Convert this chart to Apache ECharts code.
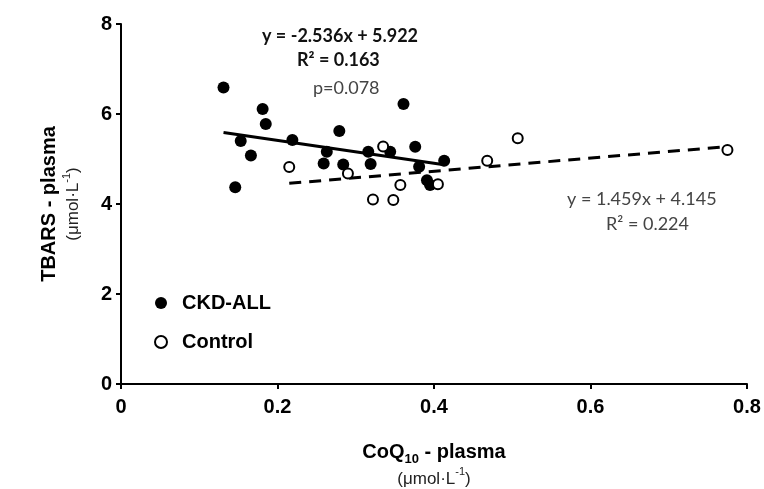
<!DOCTYPE html>
<html lang="en">
<head>
    <meta charset="UTF-8">
    <title>TBARS vs CoQ10</title>
</head>
<body style="margin:0;background:#fff;">
<div id="main" style="width: 764px;height:489px;"></div>

<script src="https://cdn.jsdelivr.net/npm/echarts@6/dist/echarts.min.js"></script>
<script>
    // CKD-ALL patients (filled dots): [CoQ10, TBARS]
    var ckdPoints = [
        [0.131, 6.59], [0.181, 6.11], [0.185, 5.78], [0.153, 5.40], [0.166, 5.08],
        [0.146, 4.37], [0.219, 5.42], [0.279, 5.62], [0.263, 5.16], [0.259, 4.90],
        [0.284, 4.88], [0.361, 6.22], [0.316, 5.16], [0.319, 4.89], [0.344, 5.16],
        [0.376, 5.27], [0.381, 4.83], [0.391, 4.53], [0.395, 4.42], [0.413, 4.96]
    ];
    // Controls (open dots)
    var controlPoints = [
        [0.215, 4.82], [0.290, 4.68], [0.335, 5.28], [0.357, 4.42], [0.322, 4.10],
        [0.348, 4.09], [0.405, 4.44], [0.468, 4.96], [0.507, 5.46], [0.775, 5.20]
    ];
    // trend lines [slope, intercept]
    var ckdFit = [-2.536, 5.922];
    var controlFit = [1.459, 4.145];
    var xTicks = [0, 0.2, 0.4, 0.6, 0.8];
    var yTicks = [0, 2, 4, 6, 8];

    var fitLine = function (pts, fit) {
        var xs = pts.map(function (p) { return p[0]; });
        var x0 = Math.min.apply(null, xs), x1 = Math.max.apply(null, xs);
        return [[x0, fit[0] * x0 + fit[1]], [x1, fit[0] * x1 + fit[1]]];
    };

    var chart = echarts.init(document.getElementById('main'));
    var eqFont = 'Lato, "Liberation Sans", sans-serif';
    var arial = '"Liberation Sans", Arial, sans-serif';
    chart.setOption({
        backgroundColor: '#fff',
        animation: false,
        grid: {left: 121, right: 17, top: 24, bottom: 105, outerBoundsMode: 'none', containLabel: false},
        legend: {
            orient: 'vertical',
            left: 149,
            top: 288,
            itemGap: 19,
            itemWidth: 12,
            itemHeight: 12,
            data: ['CKD-ALL', 'Control'],
            textStyle: {
                fontFamily: arial,
                fontWeight: 'bold',
                fontSize: 20,
                color: '#000',
                padding: [0, 0, 0, 10]
            }
        },
        xAxis: {
            type: 'value',
            min: xTicks[0],
            max: xTicks[xTicks.length - 1],
            interval: 0.2,
            splitLine: {show: false},
            axisLine: {lineStyle: {color: '#000', width: 2}},
            axisTick: {show: true, length: 5, lineStyle: {color: '#000', width: 2}},
            axisLabel: {
                margin: 13,
                color: '#000',
                fontFamily: arial,
                fontWeight: 'bold',
                fontSize: 20
            },
            name: '{b|CoQ}{sub|10}{b| - plasma}\n{n|(μmol·L}{sup|-1}{n|)}',
            nameLocation: 'middle',
            nameGap: 55,
            nameTextStyle: {
                fontFamily: arial,
                color: '#000',
                lineHeight: 27,
                rich: {
                    b: {fontFamily: arial, fontSize: 20, fontWeight: 'bold', color: '#000', lineHeight: 27},
                    sub: {fontFamily: arial, fontSize: 13, fontWeight: 'bold', color: '#000', verticalAlign: 'bottom', lineHeight: 27},
                    n: {fontFamily: arial, fontSize: 17, color: '#222', lineHeight: 27},
                    sup: {fontFamily: arial, fontSize: 11, color: '#222', verticalAlign: 'top', lineHeight: 27}
                }
            }
        },
        yAxis: {
            type: 'value',
            min: yTicks[0],
            max: yTicks[yTicks.length - 1],
            interval: 2,
            splitLine: {show: false},
            axisLine: {show: true, lineStyle: {color: '#000', width: 2}},
            axisTick: {show: true, length: 5, lineStyle: {color: '#000', width: 2}},
            axisLabel: {
                margin: 9,
                color: '#000',
                fontFamily: arial,
                fontWeight: 'bold',
                fontSize: 20
            },
            name: '{b|TBARS - plasma}\n{n|(μmol·L}{sup|-1}{n|)}',
            nameLocation: 'middle',
            nameGap: 36,
            nameTextStyle: {
                fontFamily: arial,
                color: '#000',
                lineHeight: 24,
                rich: {
                    b: {fontFamily: arial, fontSize: 20, fontWeight: 'bold', color: '#000', lineHeight: 24},
                    n: {fontFamily: arial, fontSize: 17, color: '#222', lineHeight: 24},
                    sup: {fontFamily: arial, fontSize: 11, color: '#222', verticalAlign: 'top', lineHeight: 24}
                }
            }
        },
        graphic: [
            {type: 'text', left: 262, top: 27, style: {text: 'y = -2.536x + 5.922', font: 'bold 18px ' + eqFont, fill: '#111'}},
            {type: 'text', left: 297, top: 51, style: {text: 'R² = 0.163', font: 'bold 18px ' + eqFont, fill: '#111'}},
            {type: 'text', left: 313, top: 79, style: {text: 'p=0.078', font: '18px ' + eqFont, fill: '#444'}},
            {type: 'text', left: 567, top: 190, style: {text: 'y = 1.459x + 4.145', font: '18px ' + eqFont, fill: '#444'}},
            {type: 'text', left: 606, top: 215, style: {text: 'R² = 0.224', font: '18px ' + eqFont, fill: '#444'}}
        ],
        series: [
            {
                name: 'CKD fit',
                type: 'line',
                data: fitLine(ckdPoints, ckdFit),
                symbol: 'none',
                silent: true,
                z: 1,
                lineStyle: {color: '#000', width: 3}
            },
            {
                name: 'Control fit',
                type: 'line',
                data: fitLine(controlPoints, controlFit),
                symbol: 'none',
                silent: true,
                z: 1,
                lineStyle: {color: '#000', width: 3, type: [12, 8]}
            },
            {
                name: 'CKD-ALL',
                type: 'scatter',
                data: ckdPoints,
                symbol: 'circle',
                symbolSize: 12,
                z: 3,
                itemStyle: {color: '#000', opacity: 1}
            },
            {
                name: 'Control',
                type: 'scatter',
                data: controlPoints,
                symbol: 'circle',
                symbolSize: 10,
                z: 4,
                itemStyle: {color: '#fff', borderColor: '#000', borderWidth: 2, opacity: 1}
            }
        ]
    });
</script>
</body>
</html>
